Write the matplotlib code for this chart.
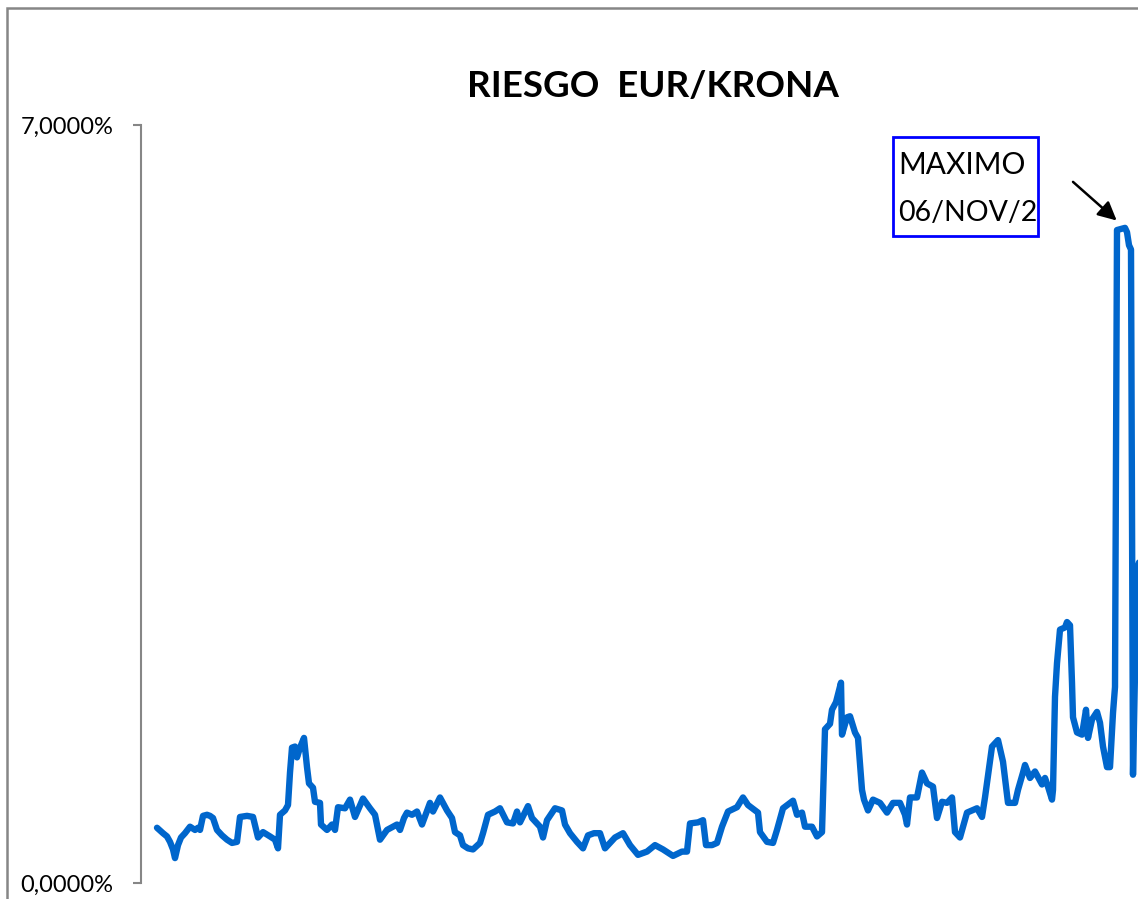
import matplotlib
matplotlib.use("Agg")
import matplotlib.pyplot as plt
from matplotlib.patches import Rectangle
from matplotlib.ticker import FuncFormatter
import numpy as np

# observation number (trading days) and daily risk in percent
dias = [0, 6, 10, 13, 16, 18, 21, 24, 28, 33, 38, 41, 43, 46, 50, 53, 56, 60, 65, 70,
        75, 80, 83, 90, 96, 101, 106, 113, 118, 121, 123, 128, 131, 133, 135, 138, 140,
        143, 147, 150, 152, 156, 158, 163, 164, 170, 175, 178, 181, 188, 193, 198, 206,
        213, 218, 223, 230, 240, 243, 247, 250, 255, 260, 265, 273, 276, 283, 290, 295,
        298, 303, 306, 311, 316, 323, 326, 331, 338, 343, 350, 356, 360, 363, 371, 375,
        383, 386, 390, 398, 405, 408, 413, 420, 426, 431, 437, 443, 448, 453, 458, 466,
        473, 481, 490, 498, 506, 516, 525, 530, 533, 541, 546, 549, 555, 560, 565, 571,
        580, 586, 591, 601, 603, 610, 616, 620, 626, 636, 640, 645, 648, 655, 660, 665,
        668, 673, 675, 679, 684, 685, 690, 693, 698, 701, 705, 707, 711, 716, 723, 730,
        736, 743, 748, 750, 753, 760, 765, 770, 776, 780, 785, 790, 795, 798, 803, 810,
        820, 825, 828, 835, 841, 846, 851, 858, 861, 866, 868, 873, 878, 885, 888, 891,
        895, 896, 898, 900, 903, 908, 910, 913, 915, 916, 920, 925, 929, 931, 935, 940,
        943, 946, 950, 953, 956, 958, 960, 964, 968, 970, 972, 974, 976, 980, 988]
riesgo = [0.51, 0.46, 0.43, 0.38, 0.31, 0.23, 0.35, 0.42, 0.46, 0.52, 0.49, 0.51,
          0.49, 0.62, 0.63, 0.62, 0.60, 0.49, 0.44, 0.40, 0.37, 0.38, 0.61, 0.62, 0.61,
          0.42, 0.47, 0.43, 0.40, 0.32, 0.63, 0.67, 0.72, 1.02, 1.25, 1.26, 1.16, 1.25,
          1.34, 1.07, 0.92, 0.88, 0.75, 0.74, 0.54, 0.49, 0.54, 0.49, 0.70, 0.69, 0.77,
          0.61, 0.78, 0.69, 0.63, 0.40, 0.49, 0.54, 0.49, 0.60, 0.65, 0.63, 0.66, 0.54,
          0.74, 0.66, 0.79, 0.67, 0.60, 0.47, 0.44, 0.35, 0.32, 0.31, 0.37, 0.46, 0.63,
          0.66, 0.69, 0.56, 0.55, 0.66, 0.56, 0.71, 0.60, 0.52, 0.42, 0.58, 0.69, 0.67,
          0.54, 0.46, 0.38, 0.32, 0.44, 0.46, 0.46, 0.32, 0.37, 0.42, 0.46, 0.35, 0.26,
          0.29, 0.35, 0.31, 0.25, 0.29, 0.29, 0.55, 0.56, 0.58, 0.35, 0.35, 0.37, 0.52,
          0.66, 0.70, 0.79, 0.72, 0.65, 0.47, 0.38, 0.37, 0.49, 0.69, 0.76, 0.63, 0.65,
          0.52, 0.52, 0.43, 0.47, 1.42, 1.47, 1.60, 1.67, 1.85, 1.37, 1.53, 1.54, 1.39,
          1.34, 0.86, 0.77, 0.67, 0.77, 0.74, 0.65, 0.74, 0.74, 0.63, 0.54, 0.79, 0.79,
          1.02, 0.92, 0.89, 0.60, 0.75, 0.74, 0.79, 0.47, 0.42, 0.65, 0.69, 0.61, 0.79,
          1.26, 1.32, 1.12, 0.74, 0.74, 0.86, 1.02, 1.09, 0.97, 1.03, 0.91, 0.97, 0.89,
          0.77, 0.86, 1.72, 2.03, 2.34, 2.36, 2.41, 2.38, 1.85, 1.53, 1.39, 1.37, 1.60,
          1.34, 1.51, 1.58, 1.48, 1.26, 1.07, 1.07, 1.57, 1.81, 6.03, 6.04, 6.05, 6.01,
          5.89, 5.85, 1.00, 2.89, 3.17]

fig = plt.figure(figsize=(11.38, 8.99), dpi=100)
W, H = 1138, 899

# axes run past the right edge, like the cropped original
ax = fig.add_axes([141 / W, (H - 883) / H, 1016 / W, 758 / H])
ax.plot(dias, riesgo, color="#0066CC", lw=4.6, solid_joinstyle="round",
        solid_capstyle="round", clip_on=False)
ax.set_xlim(-16, 1000)
ax.set_ylim(0, 7)

for s in ["top", "right", "bottom"]:
    ax.spines[s].set_visible(False)
ax.spines["left"].set_color("#868686")
ax.spines["left"].set_linewidth(1.5)
ax.set_xticks([])
ax.set_yticks([0, 7])
ax.yaxis.set_major_formatter(FuncFormatter(lambda v, p: f"{v:.4f}%".replace(".", ",")))
ax.tick_params(axis="y", direction="out", length=6, width=1.5, color="#868686",
               pad=14, labelsize=17)
for lab in ax.get_yticklabels():
    lab.set_family("Lato")

fig.text(653 / W, 1 - 97 / H, "RIESGO  EUR/KRONA", ha="center", va="baseline",
         fontsize=26.5, fontweight="bold", family="Lato")

# outer chart border (cropped at right and bottom)
fig.patches.append(Rectangle((7 / W, -0.1), 1.2, 1.1 - 8 / H, transform=fig.transFigure,
                             fill=False, ec="#868686", lw=1.8))

# annotation box for the maximum
fig.patches.append(Rectangle((893 / W, 1 - 236 / H), 145 / W, 99 / H,
                             transform=fig.transFigure, fc="white", ec="#0000FF", lw=2))
fig.text(898 / W, 1 - 165 / H, "MAXIMO", ha="left", va="center", fontsize=21.5,
         family="Lato")
fig.text(898 / W, 1 - 213 / H, "06/NOV/2", ha="left", va="center", fontsize=20.5,
         family="Lato")

i = int(np.argmax(riesgo))
ax.annotate("", xy=(dias[i], riesgo[i]), xytext=(-52, 46), textcoords="offset pixels",
            arrowprops=dict(arrowstyle="-|>", color="black", lw=1.8, mutation_scale=28,
                            shrinkA=0, shrinkB=8))

fig.savefig("out.png", dpi=100)
